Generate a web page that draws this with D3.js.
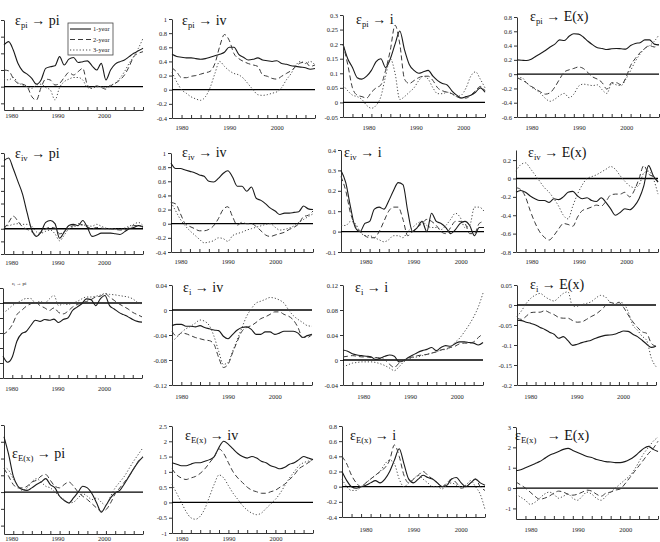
<!DOCTYPE html>
<html>
<head>
<meta charset="utf-8">
<script src="https://cdn.jsdelivr.net/npm/d3@7"></script>
<style>
body { margin: 0; background: #fff; }
svg { display: block; font-family: "Liberation Serif", "Times New Roman", serif; }
</style>
</head>
<body>
<svg id="chart" width="660" height="542"></svg>
<script>
// years of the impulse responses
var years = d3.range(1978, 2009);
var decadeLabels = [1980, 1990, 2000];
var horizons = ["1-year", "2-year", "3-year"];

// shock -> response, 1/2/3-year horizons
var pi_pi_1y = [0.50,0.54,0.44,0.28,0.19,0.15,0.10,0.03,0.08,0.22,0.24,0.25,0.36,0.26,0.33,0.35,0.29,0.30,0.31,0.25,0.20,0.28,0.08,0.20,0.27,0.30,0.32,0.36,0.40,0.43,0.46];
var pi_pi_2y = [0.20,0.19,0.10,0.04,0.03,0.0,-0.12,-0.16,-0.01,0.09,0.08,0.02,0.04,0.11,0.17,0.14,0.18,0.22,0.02,-0.02,0.01,-0.01,-0.03,0.01,0.04,0.08,0.14,0.24,0.36,0.40,0.42];
var pi_pi_3y = [0.10,0.08,0.11,0.05,0.02,0.0,-0.02,0.02,0.03,-0.01,-0.04,-0.16,-0.01,0.06,0.09,0.11,0.11,0.08,-0.01,-0.02,0.0,0.0,-0.01,0.02,0.04,0.10,0.18,0.28,0.36,0.46,0.58];

var pi_iv_1y = [0.50,0.47,0.46,0.45,0.45,0.44,0.43,0.44,0.46,0.48,0.50,0.53,0.60,0.60,0.50,0.46,0.42,0.43,0.45,0.42,0.41,0.40,0.41,0.37,0.36,0.34,0.33,0.32,0.31,0.29,0.30];
var pi_iv_2y = [0.31,0.25,0.17,0.17,0.19,0.20,0.22,0.24,0.26,0.37,0.61,0.78,0.70,0.51,0.44,0.40,0.37,0.35,0.33,0.21,0.19,0.16,0.15,0.19,0.23,0.27,0.33,0.38,0.39,0.33,0.35];
var pi_iv_3y = [0.25,0.11,0.0,-0.05,-0.10,-0.13,-0.15,-0.10,0.03,0.23,0.40,0.33,0.27,0.23,0.21,0.16,0.08,0.0,-0.07,-0.08,-0.07,-0.05,-0.03,0.03,0.14,0.23,0.35,0.40,0.37,0.40,0.35];

var pi_i_1y = [0.20,0.15,0.12,0.085,0.08,0.09,0.11,0.14,0.15,0.12,0.15,0.20,0.245,0.18,0.13,0.11,0.10,0.105,0.11,0.09,0.075,0.065,0.06,0.04,0.025,0.015,0.02,0.025,0.035,0.05,0.035];
var pi_i_2y = [0.20,0.13,0.05,0.025,0.02,0.015,0.035,0.05,0.06,0.11,0.18,0.265,0.20,0.08,0.065,0.075,0.085,0.09,0.09,0.075,0.05,0.04,0.035,0.03,0.02,0.015,0.015,0.025,0.04,0.055,0.04];
var pi_i_3y = [0.06,0.04,0.025,0.02,0.01,-0.01,-0.02,-0.01,0.02,0.09,0.15,0.10,0.01,0.02,0.035,0.05,0.075,0.09,0.08,0.05,0.03,0.03,0.035,0.03,0.02,0.025,0.05,0.09,0.105,0.08,0.05];

var pi_ex_1y = [0.20,0.195,0.19,0.21,0.25,0.29,0.33,0.38,0.42,0.48,0.47,0.53,0.565,0.56,0.52,0.46,0.41,0.37,0.36,0.345,0.355,0.36,0.355,0.35,0.40,0.43,0.44,0.48,0.48,0.42,0.41];
var pi_ex_2y = [-0.05,-0.08,-0.12,-0.17,-0.21,-0.25,-0.28,-0.26,-0.18,-0.07,0.03,0.06,0.08,0.10,0.08,0.02,-0.04,-0.07,-0.12,-0.21,-0.12,-0.12,-0.15,-0.05,0.12,0.22,0.30,0.36,0.40,0.38,0.42];
var pi_ex_3y = [-0.05,-0.05,-0.12,-0.18,-0.22,-0.27,-0.34,-0.38,-0.35,-0.30,-0.27,-0.33,-0.28,-0.17,-0.14,-0.15,-0.16,-0.15,-0.22,-0.27,-0.13,-0.15,-0.16,-0.07,0.05,0.18,0.28,0.36,0.40,0.46,0.55];

var iv_pi_1y = [1.08,1.12,0.95,0.75,0.55,0.25,-0.02,-0.12,-0.05,0.10,0.13,0.08,-0.15,-0.05,0.05,0.07,0.05,0.13,0.02,-0.12,-0.10,-0.07,-0.07,-0.07,-0.08,-0.09,-0.05,0.0,0.02,0.05,0.03];
var iv_pi_2y = [0.0,0.10,0.20,0.12,0.03,-0.01,-0.05,-0.10,-0.06,0.0,0.02,0.01,-0.08,-0.05,0.02,0.05,0.08,0.06,0.03,0.0,0.02,0.01,0.0,0.0,-0.01,-0.02,-0.02,0.02,0.05,0.05,0.02];
var iv_pi_3y = [0.05,0.05,0.07,0.08,0.07,0.07,0.04,-0.05,-0.07,-0.04,-0.02,-0.08,-0.19,-0.10,0.0,0.03,0.05,0.06,0.05,0.04,0.07,0.04,0.01,0.0,0.0,-0.01,0.01,0.04,0.07,0.10,0.05];

var iv_iv_1y = [0.86,0.78,0.78,0.76,0.74,0.72,0.69,0.67,0.60,0.59,0.64,0.71,0.75,0.66,0.53,0.53,0.46,0.52,0.36,0.33,0.28,0.22,0.18,0.13,0.15,0.15,0.16,0.17,0.25,0.21,0.20];
var iv_iv_2y = [0.30,0.28,0.14,0.0,-0.04,-0.07,-0.10,-0.10,-0.08,-0.03,0.07,0.20,0.24,0.10,-0.02,0.02,0.0,0.0,-0.04,-0.10,-0.16,-0.18,-0.16,-0.14,-0.12,-0.08,-0.05,0.0,0.10,0.12,0.18];
var iv_iv_3y = [0.30,0.18,0.06,-0.03,-0.10,-0.16,-0.22,-0.27,-0.26,-0.24,-0.20,-0.21,-0.25,-0.17,-0.14,-0.12,-0.09,-0.07,-0.05,-0.03,-0.01,0.0,-0.05,-0.09,-0.08,-0.06,-0.03,0.02,0.06,0.10,0.14];

var iv_i_1y = [0.30,0.24,0.12,0.02,0.0,0.04,0.05,0.11,0.12,0.11,0.15,0.20,0.24,0.23,0.10,0.0,0.02,0.05,0.0,0.09,0.05,0.04,0.02,-0.01,0.01,0.04,0.05,0.03,-0.02,0.02,0.02];
var iv_i_2y = [0.27,0.20,0.09,0.03,0.0,-0.02,-0.03,-0.03,0.0,0.05,0.10,0.12,0.12,0.06,-0.02,0.0,0.02,0.04,0.06,0.05,0.03,0.0,-0.01,0.02,0.05,0.05,0.04,-0.01,-0.01,0.04,0.05];
var iv_i_3y = [0.03,0.03,0.05,0.04,0.0,-0.02,-0.02,-0.03,-0.04,-0.05,-0.04,-0.02,-0.02,-0.03,0.0,0.02,0.04,0.05,0.03,0.02,0.02,0.01,0.03,0.06,0.09,0.07,0.02,0.03,0.12,0.12,0.10];

var iv_ex_1y = [-0.15,-0.13,-0.15,-0.19,-0.22,-0.24,-0.24,-0.26,-0.22,-0.23,-0.20,-0.15,-0.14,-0.19,-0.22,-0.21,-0.24,-0.25,-0.21,-0.26,-0.33,-0.40,-0.37,-0.33,-0.34,-0.30,-0.22,-0.08,0.14,0.03,-0.04];
var iv_ex_2y = [-0.10,-0.12,-0.20,-0.35,-0.48,-0.58,-0.64,-0.67,-0.62,-0.55,-0.49,-0.50,-0.52,-0.42,-0.35,-0.33,-0.31,-0.29,-0.30,-0.25,-0.18,-0.17,-0.17,-0.15,-0.20,-0.13,0.0,0.14,0.05,0.02,-0.03];
var iv_ex_3y = [0.08,0.15,0.17,0.11,0.04,-0.03,-0.10,-0.15,-0.22,-0.30,-0.40,-0.44,-0.30,-0.17,-0.07,0.0,0.02,0.04,0.07,0.10,0.13,0.10,0.03,-0.03,-0.08,-0.10,-0.07,0.06,0.08,0.0,-0.17];

var i_pi_1y = [-0.142,-0.158,-0.144,-0.102,-0.082,-0.076,-0.060,-0.046,-0.049,-0.044,-0.046,-0.043,-0.052,-0.044,-0.040,-0.020,-0.011,-0.002,0.011,0.009,-0.007,0.011,0.020,-0.007,-0.016,-0.025,-0.031,-0.037,-0.044,-0.049,-0.051];
var i_pi_2y = [-0.084,-0.075,-0.058,-0.031,-0.020,-0.009,-0.002,0.002,-0.007,-0.013,-0.020,-0.013,-0.025,-0.029,-0.022,-0.011,-0.004,0.0,0.004,0.009,0.016,0.018,0.025,0.016,0.007,-0.002,-0.009,-0.016,-0.025,-0.031,-0.037];
var i_pi_3y = [-0.027,-0.018,-0.007,0.0,0.007,0.012,0.012,0.0,0.004,0.0,0.011,0.020,-0.007,-0.002,-0.004,0.0,0.004,0.011,0.016,0.016,0.018,0.021,0.025,0.023,0.022,0.020,0.018,0.016,0.011,0.002,-0.004];

var i_iv_1y = [-0.025,-0.023,-0.023,-0.026,-0.026,-0.027,-0.025,-0.028,-0.030,-0.032,-0.033,-0.042,-0.046,-0.039,-0.032,-0.028,-0.027,-0.031,-0.039,-0.039,-0.035,-0.035,-0.039,-0.037,-0.034,-0.034,-0.034,-0.037,-0.044,-0.041,-0.039];
var i_iv_2y = [-0.034,-0.042,-0.037,-0.038,-0.041,-0.044,-0.046,-0.048,-0.049,-0.055,-0.076,-0.092,-0.087,-0.068,-0.050,-0.034,-0.028,-0.025,-0.020,-0.014,-0.011,-0.007,-0.003,-0.003,-0.007,-0.010,-0.016,-0.028,-0.044,-0.044,-0.039];
var i_iv_3y = [-0.050,-0.044,-0.036,-0.030,-0.026,-0.021,-0.016,-0.018,-0.025,-0.042,-0.066,-0.087,-0.084,-0.066,-0.047,-0.028,-0.010,0.002,0.011,0.014,0.017,0.020,0.019,0.016,0.011,0.0,-0.009,-0.015,-0.020,-0.025,-0.026];

var i_i_1y = [0.016,0.014,0.010,0.008,0.007,0.006,0.005,0.001,0.003,0.006,0.008,0.006,-0.003,-0.001,0.004,0.008,0.012,0.015,0.017,0.020,0.015,0.020,0.023,0.022,0.026,0.029,0.029,0.028,0.027,0.024,0.028];
var i_i_2y = [0.005,0.006,0.007,0.006,0.005,0.005,0.004,0.004,0.003,0.0,-0.007,-0.012,-0.005,-0.001,0.003,0.005,0.007,0.008,0.009,0.011,0.013,0.016,0.018,0.020,0.022,0.026,0.027,0.027,0.029,0.036,0.042];
var i_i_3y = [-0.011,-0.008,-0.005,-0.004,-0.003,-0.003,-0.003,-0.004,-0.006,-0.009,-0.013,-0.017,-0.011,-0.003,0.001,0.004,0.005,0.007,0.009,0.011,0.013,0.016,0.017,0.020,0.028,0.035,0.045,0.056,0.069,0.085,0.107];

var i_ex_1y = [-0.038,-0.039,-0.043,-0.046,-0.050,-0.056,-0.061,-0.068,-0.073,-0.083,-0.079,-0.089,-0.101,-0.098,-0.094,-0.091,-0.088,-0.083,-0.079,-0.076,-0.075,-0.073,-0.069,-0.065,-0.066,-0.073,-0.079,-0.088,-0.098,-0.106,-0.103];
var i_ex_2y = [-0.033,-0.036,-0.028,-0.019,-0.018,-0.018,-0.014,-0.019,-0.024,-0.031,-0.033,-0.033,-0.039,-0.043,-0.042,-0.036,-0.029,-0.023,-0.014,-0.003,0.007,0.004,0.006,-0.006,-0.025,-0.042,-0.056,-0.067,-0.071,-0.096,-0.103];
var i_ex_3y = [-0.029,-0.014,0.004,0.017,0.025,0.029,0.021,0.014,0.010,0.019,0.029,0.033,-0.003,-0.003,0.001,0.004,0.008,0.017,0.024,0.021,0.008,0.001,0.007,0.004,-0.017,-0.050,-0.063,-0.078,-0.089,-0.133,-0.154];

var ex_pi_1y = [0.66,0.45,0.19,0.07,0.03,0.02,0.05,0.09,0.12,0.16,0.09,0.05,-0.05,-0.10,-0.13,-0.07,0.0,0.07,0.05,-0.02,-0.13,-0.24,-0.16,-0.07,-0.01,0.02,0.10,0.19,0.28,0.36,0.42];
var ex_pi_2y = [0.28,0.19,0.09,0.05,0.05,0.07,0.12,0.14,0.19,0.21,0.14,0.07,0.05,0.09,0.12,0.07,0.0,-0.05,-0.09,-0.14,-0.19,-0.23,-0.21,-0.13,-0.02,0.05,0.12,0.19,0.28,0.37,0.42];
var ex_pi_3y = [0.30,0.26,0.16,0.07,0.02,0.05,0.12,0.16,0.12,0.07,0.05,0.0,-0.05,-0.09,-0.13,-0.12,-0.07,-0.02,-0.05,-0.09,-0.07,-0.12,-0.16,-0.05,0.05,0.12,0.19,0.28,0.37,0.45,0.53];

var ex_iv_1y = [1.30,1.25,1.20,1.20,1.25,1.30,1.30,1.35,1.40,1.50,1.80,2.00,1.90,1.75,1.60,1.50,1.45,1.50,1.45,1.35,1.30,1.20,1.15,1.10,1.15,1.25,1.30,1.40,1.50,1.45,1.40];
var ex_iv_2y = [1.10,0.90,0.80,0.75,0.80,0.85,0.95,1.10,1.30,1.50,1.75,1.60,1.30,1.00,0.80,0.65,0.50,0.40,0.35,0.30,0.30,0.35,0.40,0.50,0.60,0.75,0.90,1.10,1.20,1.30,1.40];
var ex_iv_3y = [0.60,0.30,0.0,-0.30,-0.50,-0.55,-0.45,-0.20,0.20,0.60,0.90,0.80,0.55,0.30,0.10,-0.10,-0.25,-0.35,-0.40,-0.35,-0.20,-0.05,0.10,0.30,0.55,0.80,1.00,1.20,1.30,1.35,1.40];

var ex_i_1y = [0.20,0.08,0.0,-0.02,0.0,0.02,0.05,0.08,0.05,0.10,0.20,0.35,0.50,0.30,0.10,0.05,0.10,0.15,0.12,0.10,0.05,0.0,0.02,0.10,0.12,0.05,0.0,0.05,0.10,0.05,0.02];
var ex_i_2y = [0.40,0.30,0.15,0.05,0.0,0.05,0.10,0.15,0.20,0.25,0.35,0.55,0.40,0.15,0.05,0.10,0.15,0.20,0.15,0.10,0.05,0.0,0.05,0.10,0.05,-0.02,0.0,0.05,0.10,0.0,-0.05];
var ex_i_3y = [0.10,0.0,-0.05,-0.05,0.0,0.05,0.10,0.15,0.20,0.30,0.35,0.30,0.10,0.0,0.05,0.10,0.15,0.10,0.05,0.0,0.0,-0.03,0.02,0.05,0.02,0.0,0.02,0.08,0.0,-0.10,-0.30];

var ex_ex_1y = [0.85,0.90,1.00,1.10,1.20,1.30,1.45,1.60,1.70,1.80,1.90,1.95,1.85,1.75,1.65,1.55,1.50,1.40,1.35,1.30,1.28,1.25,1.25,1.30,1.40,1.55,1.75,1.95,2.05,1.90,1.80];
var ex_ex_2y = [0.30,0.15,0.0,-0.20,-0.40,-0.55,-0.50,-0.40,-0.25,-0.15,-0.20,-0.30,-0.35,-0.30,-0.20,-0.10,-0.15,-0.30,-0.40,-0.25,-0.20,-0.10,-0.05,0.20,0.50,0.80,1.10,1.40,1.70,1.95,2.30];
var ex_ex_3y = [-0.30,-0.45,-0.60,-0.80,-0.70,-0.50,-0.30,-0.20,-0.30,-0.50,-0.40,-0.30,-0.50,-0.60,-0.40,-0.20,-0.30,-0.50,-0.60,-0.40,-0.20,0.0,0.20,0.40,0.60,0.90,1.30,1.70,2.00,2.30,2.50];

// y tick values for each panel
var ticks_pi_pi = [-0.2,0,0.2,0.4,0.6,0.8];
var ticks_pi_iv = [-0.4,-0.2,0,0.2,0.4,0.6,0.8,1];
var ticks_pi_i  = [-0.05,0,0.05,0.1,0.15,0.2,0.25,0.3];
var ticks_pi_ex = [-0.6,-0.4,-0.2,0,0.2,0.4,0.6,0.8];
var ticks_iv_pi = [-0.4,-0.2,0,0.2,0.4,0.6,0.8,1,1.2];
var ticks_iv_iv = [-0.4,-0.2,0,0.2,0.4,0.6,0.8,1];
var ticks_iv_i  = [-0.1,0,0.1,0.2,0.3,0.4];
var ticks_iv_ex = [-0.8,-0.6,-0.4,-0.2,0,0.2];
var ticks_i_pi  = [-0.2,-0.16,-0.12,-0.08,-0.04,0,0.04];
var ticks_i_iv  = [-0.12,-0.08,-0.04,0,0.04];
var ticks_i_i   = [-0.04,0,0.04,0.08,0.12];
var ticks_i_ex  = [-0.2,-0.15,-0.1,-0.05,0,0.05];
var ticks_ex_pi = [-0.4,-0.2,0,0.2,0.4,0.6,0.8];
var ticks_ex_iv = [-1,-0.5,0,0.5,1,1.5,2,2.5];
var ticks_ex_i  = [-0.4,-0.2,0,0.2,0.4,0.6,0.8];
var ticks_ex_ex = [-1,0,1,2,3];

// panel layout: pixel box, y domain, title placement
// (first column is cropped in the original, so its y labels are not shown)
var panels = [
  {sh:"pi", re:"pi", d:[pi_pi_1y,pi_pi_2y,pi_pi_3y], t:ticks_pi_pi, dom:[-0.28,0.8], x0:4, x1:143, y0:20, y1:110, lx:-2, ly:118, tx:15, ty:25, noY:true},
  {sh:"pi", re:"iv", d:[pi_iv_1y,pi_iv_2y,pi_iv_3y], t:ticks_pi_iv, dom:[-0.4,1], x0:172, x1:315, y0:19, y1:118, lx:0, ly:130, tx:182, ty:25},
  {sh:"pi", re:"i", d:[pi_i_1y,pi_i_2y,pi_i_3y], t:ticks_pi_i, dom:[-0.05,0.3], x0:343, x1:485, y0:15, y1:117, lx:16, ly:130, tx:356, ty:24},
  {sh:"pi", re:"E(x)", d:[pi_ex_1y,pi_ex_2y,pi_ex_3y], t:ticks_pi_ex, dom:[-0.6,0.8], x0:517, x1:659, y0:17, y1:117, lx:5, ly:130, tx:530, ty:21},
  {sh:"iv", re:"pi", d:[iv_pi_1y,iv_pi_2y,iv_pi_3y], t:ticks_iv_pi, dom:[-0.4,1.2], x0:4, x1:143, y0:153, y1:254, lx:-2, ly:265, tx:15, ty:158, noY:true},
  {sh:"iv", re:"iv", d:[iv_iv_1y,iv_iv_2y,iv_iv_3y], t:ticks_iv_iv, dom:[-0.4,1], x0:171, x1:313, y0:153, y1:252, lx:0, ly:264, tx:182, ty:157},
  {sh:"iv", re:"i", d:[iv_i_1y,iv_i_2y,iv_i_3y], t:ticks_iv_i, dom:[-0.1,0.4], x0:341, x1:484, y0:150, y1:252, lx:15, ly:264, tx:344, ty:157},
  {sh:"iv", re:"E(x)", d:[iv_ex_1y,iv_ex_2y,iv_ex_3y], t:ticks_iv_ex, dom:[-0.8,0.31], x0:516, x1:658, y0:150, y1:252, lx:6, ly:264, tx:528, ty:157},
  {sh:"i", re:"pi", d:[i_pi_1y,i_pi_2y,i_pi_3y], t:ticks_i_pi, dom:[-0.2,0.04], x0:3, x1:142, y0:288, y1:378, lx:-1, ly:391, tx:12, ty:285, tiny:true, noY:true},
  {sh:"i", re:"iv", d:[i_iv_1y,i_iv_2y,i_iv_3y], t:ticks_i_iv, dom:[-0.12,0.04], x0:172, x1:312, y0:285, y1:385, lx:0, ly:399, tx:183, ty:292},
  {sh:"i", re:"i", d:[i_i_1y,i_i_2y,i_i_3y], t:ticks_i_i, dom:[-0.04,0.12], x0:343, x1:483, y0:285, y1:385, lx:11, ly:399, tx:355, ty:292},
  {sh:"i", re:"E(x)", d:[i_ex_1y,i_ex_2y,i_ex_3y], t:ticks_i_ex, dom:[-0.2,0.05], x0:517, x1:656, y0:285, y1:385, lx:4, ly:399, tx:530, ty:289},
  {sh:"E(x)", re:"pi", d:[ex_pi_1y,ex_pi_2y,ex_pi_3y], t:ticks_ex_pi, dom:[-0.5,0.8], x0:4, x1:143, y0:425, y1:534, lx:-2, ly:541, tx:12, ty:458, noY:true},
  {sh:"E(x)", re:"iv", d:[ex_iv_1y,ex_iv_2y,ex_iv_3y], t:ticks_ex_iv, dom:[-1,2.5], x0:172, x1:313, y0:426, y1:533, lx:0, ly:541, tx:185, ty:440},
  {sh:"E(x)", re:"i", d:[ex_i_1y,ex_i_2y,ex_i_3y], t:ticks_ex_i, dom:[-0.4,0.8], x0:342, x1:485, y0:426, y1:517, lx:14, ly:532, tx:350, ty:440},
  {sh:"E(x)", re:"E(x)", d:[ex_ex_1y,ex_ex_2y,ex_ex_3y], t:ticks_ex_ex, dom:[-1.52,3], x0:516, x1:658, y0:427, y1:519, lx:5, ly:532, tx:515, ty:440, gap:true}
];

var lineStyles = [
  {stroke: "#1a1a1a", dash: null, width: 1.1},
  {stroke: "#3a3a3a", dash: "5,3", width: 1},
  {stroke: "#4a4a4a", dash: "1.2,2", width: 1}
];

var fmt = function(v) { return String(+v.toFixed(2)); };
var svg = d3.select("#chart");

panels.forEach(function(p) {
  var x = d3.scaleLinear().domain([years[0], years[years.length - 1]]).range([p.x0, p.x1]);
  var y = d3.scaleLinear().domain(p.dom).range([p.y1, p.y0]);
  var g = svg.append("g");

  // y axis
  var ya = g.append("g")
      .attr("transform", "translate(" + p.x0 + ",0)")
      .call(d3.axisLeft(y).tickValues(p.t).tickSize(3).tickSizeOuter(0).tickPadding(2)
        .tickFormat(p.noY ? "" : fmt));
  ya.select(".domain").attr("stroke", "#333");
  ya.selectAll("line").attr("stroke", "#333");
  ya.selectAll("text").attr("font-family", "Liberation Serif").attr("font-size", 6.5).attr("fill", "#222");
  if (p.noY) ya.selectAll("text").remove();

  // x axis at the bottom of the plot
  var xa = g.append("g")
      .attr("transform", "translate(0," + p.y1 + ")")
      .call(d3.axisBottom(x).tickValues(d3.range(1978, 2009, 2)).tickSize(-3).tickSizeOuter(0)
        .tickFormat(function(d) { return decadeLabels.indexOf(d) >= 0 ? d : ""; }));
  xa.select(".domain").attr("stroke", "#333");
  xa.selectAll("line").attr("stroke", "#333");
  xa.selectAll("text")
      .attr("font-family", "Liberation Serif").attr("font-size", 6.5).attr("fill", "#222")
      .attr("y", p.ly - p.y1).attr("dy", 0).attr("dx", p.lx);

  // zero line
  g.append("line")
      .attr("x1", p.x0).attr("x2", p.x1)
      .attr("y1", y(0)).attr("y2", y(0))
      .attr("stroke", "#000").attr("stroke-width", 1.3);

  // response lines
  p.d.forEach(function(series, k) {
    var line = d3.line()
        .x(function(d, i) { return x(years[i]); })
        .y(function(d) { return y(d); })
        .curve(d3.curveMonotoneX);
    g.append("path")
        .datum(series)
        .attr("d", line)
        .attr("fill", "none")
        .attr("stroke", lineStyles[k].stroke)
        .attr("stroke-width", lineStyles[k].width)
        .attr("stroke-dasharray", lineStyles[k].dash);
  });

  // title: epsilon_shock -> response
  var fs = p.tiny ? 5 : 14;
  var title = g.append("text")
      .attr("x", p.tx).attr("y", p.ty)
      .attr("font-family", "Liberation Serif")
      .attr("font-size", fs).attr("fill", "#111");
  title.append("tspan").text("\u03b5");
  title.append("tspan").attr("font-size", fs * 0.62).attr("dy", fs * 0.22).text(p.sh);
  title.append("tspan").attr("font-size", fs).attr("dy", -fs * 0.22)
      .text((p.gap ? "\u00a0\u00a0\u00a0" : "\u00a0") + "\u2192\u00a0" + p.re);
});

// legend in the first panel
var legend = svg.append("g").attr("transform", "translate(68,23)");
legend.append("rect")
    .attr("width", 45).attr("height", 32)
    .attr("fill", "#fff").attr("stroke", "#444").attr("stroke-width", 0.8);
horizons.forEach(function(h, k) {
  var ly = 6 + k * 10.5;
  legend.append("line")
      .attr("x1", 2).attr("x2", 23).attr("y1", ly).attr("y2", ly)
      .attr("stroke", lineStyles[k].stroke)
      .attr("stroke-width", lineStyles[k].width)
      .attr("stroke-dasharray", lineStyles[k].dash);
  legend.append("text")
      .attr("x", 25).attr("y", ly + 2.2)
      .attr("font-family", "Liberation Serif").attr("font-size", 6.5).attr("fill", "#222")
      .text(h);
});
</script>
</body>
</html>
